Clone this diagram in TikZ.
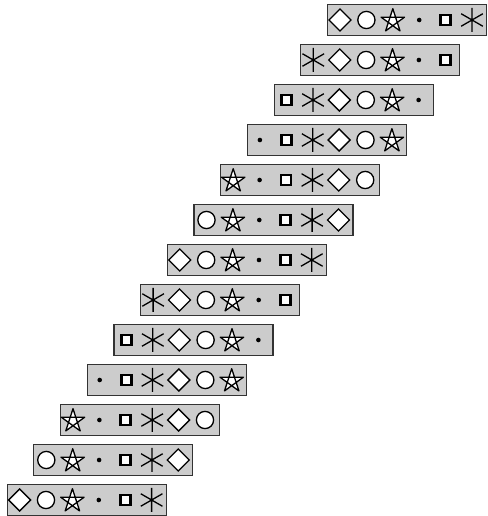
\documentclass[tikz,border=0pt]{standalone}
\tikzset{
  rowbox/.style={draw=black!80, fill=black!20, line width=1.2pt, minimum width=159pt, minimum height=31pt, inner sep=0pt, outer sep=0pt},
  sym/.style={line width=1.3pt, draw=black, fill=white, line join=miter},
  pics/sym0/.style={code={\draw[sym] (-11,0)--(0,11)--(11,0)--(0,-11)--cycle;}},
  pics/sym1/.style={code={\draw[sym] (0,0) circle[radius=8.6];}},
  pics/sym2/.style={code={\draw[sym,line join=round] (0,-1)+(90:12.3)--+(234:12.3)--+(18:12.3)--+(162:12.3)--+(306:12.3)--cycle;}},
  pics/sym3/.style={code={\fill[black] (0,0) circle[radius=2.3];}},
  pics/sym4/.style={code={\draw[line width=2.8pt, draw=black, fill=white] (-5,-5) rectangle (5,5);}},
  pics/sym5/.style={code={\draw[line width=1.3pt, black] (90:12)--(270:12) (30:12.5)--(210:12.5) (150:12.5)--(330:12.5);}}
}
\begin{document}
\begin{tikzpicture}[x=1pt,y=1pt]
\useasboundingbox (0,0) rectangle (487,516);
\foreach \i in {0,...,12}{
  \node[rowbox] (box\i) at ({407-26.7*\i},{496-40*\i}) {};
  \foreach \j in {0,...,5}{
    \pgfmathtruncatemacro\k{mod(\j-\i+12,6)}
    \pgfmathsetmacro\xs{12.5+26.4*\j}
    \pic at ([xshift=\xs pt]box\i.west) {sym\k};
  }
}
\end{tikzpicture}
\end{document}
